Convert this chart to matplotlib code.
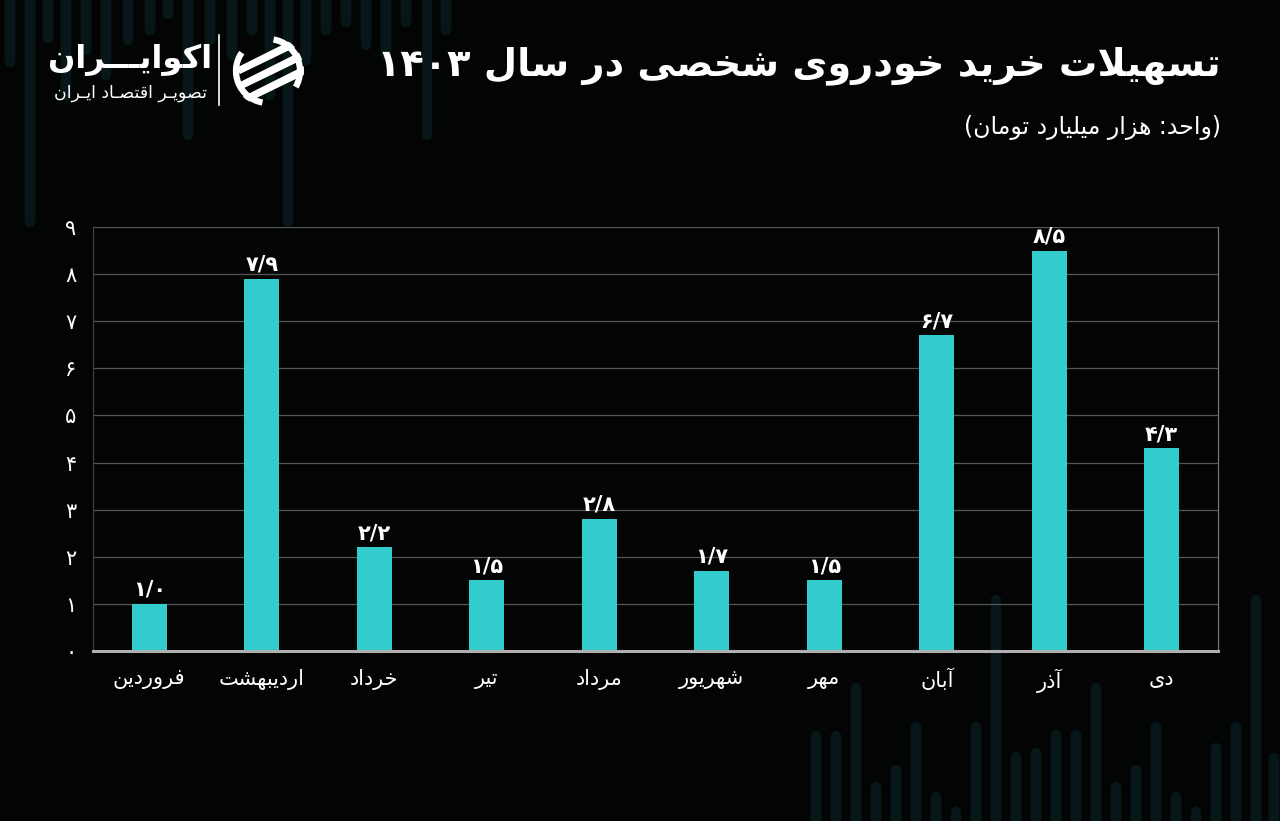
import matplotlib
matplotlib.use("Agg")
import matplotlib.pyplot as plt
from matplotlib.patches import Circle, Polygon, Arc
import numpy as np

# ---------------- data ----------------
months = ["فروردین", "اردیبهشت", "خرداد", "تیر", "مرداد",
          "شهریور", "مهر", "آبان", "آذر", "دی"]
values = [1.0, 7.9, 2.2, 1.5, 2.8, 1.7, 1.5, 6.7, 8.5, 4.3]
value_labels = ["۱/۰", "۷/۹", "۲/۲", "۱/۵", "۲/۸", "۱/۷", "۱/۵", "۶/۷", "۸/۵", "۴/۳"]
y_ticks = [0, 1, 2, 3, 4, 5, 6, 7, 8, 9]
y_tick_labels = ["۰", "۱", "۲", "۳", "۴", "۵", "۶", "۷", "۸", "۹"]
title = "تسهیلات خرید خودروی شخصی در سال ۱۴۰۳"
subtitle = "(واحد: هزار میلیارد تومان)"
brand = "اکوایـــران"
brand_sub = "تصویـر اقتصـاد ایـران"

# ---------------- simple Persian shaping ----------------
F = {  # isolated, final, initial, medial
    'ا': ('\uFE8D', '\uFE8E', None, None),
    'آ': ('\uFE81', '\uFE82', None, None),
    'ب': ('\uFE8F', '\uFE90', '\uFE91', '\uFE92'),
    'پ': ('\uFB56', '\uFB57', '\uFB58', '\uFB59'),
    'ت': ('\uFE95', '\uFE96', '\uFE97', '\uFE98'),
    'ث': ('\uFE99', '\uFE9A', '\uFE9B', '\uFE9C'),
    'ج': ('\uFE9D', '\uFE9E', '\uFE9F', '\uFEA0'),
    'ح': ('\uFEA1', '\uFEA2', '\uFEA3', '\uFEA4'),
    'خ': ('\uFEA5', '\uFEA6', '\uFEA7', '\uFEA8'),
    'د': ('\uFEA9', '\uFEAA', None, None),
    'ذ': ('\uFEAB', '\uFEAC', None, None),
    'ر': ('\uFEAD', '\uFEAE', None, None),
    'ز': ('\uFEAF', '\uFEB0', None, None),
    'س': ('\uFEB1', '\uFEB2', '\uFEB3', '\uFEB4'),
    'ش': ('\uFEB5', '\uFEB6', '\uFEB7', '\uFEB8'),
    'ص': ('\uFEB9', '\uFEBA', '\uFEBB', '\uFEBC'),
    'ق': ('\uFED5', '\uFED6', '\uFED7', '\uFED8'),
    'ف': ('\uFED1', '\uFED2', '\uFED3', '\uFED4'),
    'ک': ('\uFB8E', '\uFB8F', '\uFB90', '\uFB91'),
    'ل': ('\uFEDD', '\uFEDE', '\uFEDF', '\uFEE0'),
    'م': ('\uFEE1', '\uFEE2', '\uFEE3', '\uFEE4'),
    'ن': ('\uFEE5', '\uFEE6', '\uFEE7', '\uFEE8'),
    'و': ('\uFEED', '\uFEEE', None, None),
    'ه': ('\uFEE9', '\uFEEA', '\uFEEB', '\uFEEC'),
    'ی': ('\uFBFC', '\uFBFD', '\uFBFE', '\uFBFF'),
    'ـ': ('ـ', 'ـ', 'ـ', 'ـ'),
}
LAM_ALEF = {'ا': ('\uFEFB', '\uFEFC'), 'آ': ('\uFEF5', '\uFEF6')}
DIGITS = set("۰۱۲۳۴۵۶۷۸۹0123456789٫/")


def shape(text):
    out = []
    i = 0
    n = len(text)
    while i < n:
        c = text[i]
        if c not in F:
            out.append(c)
            i += 1
            continue
        prev = text[i - 1] if i > 0 else None
        jp = prev in F and F[prev][2] is not None
        if c == 'ل' and i + 1 < n and text[i + 1] in LAM_ALEF:
            out.append(LAM_ALEF[text[i + 1]][1 if jp else 0])
            i += 2
            continue
        nxt = text[i + 1] if i + 1 < n else None
        jn = nxt in F and F[c][2] is not None
        iso, fin, ini, med = F[c]
        if jp and jn:
            out.append(med)
        elif jp:
            out.append(fin)
        elif jn:
            out.append(ini)
        else:
            out.append(iso)
        i += 1
    return "".join(out)


def fa(text):
    s = shape(text)
    tokens = []
    for ch in s:
        isd = ch in DIGITS
        if tokens and tokens[-1][0] == isd:
            tokens[-1][1].append(ch)
        else:
            tokens.append([isd, [ch]])
    mirror = {'(': ')', ')': '('}
    res = []
    for isd, chars in reversed(tokens):
        if isd:
            res.append("".join(chars))
        else:
            res.append("".join(mirror.get(c, c) for c in reversed(chars)))
    return "".join(res)


# ---------------- figure ----------------
BG = "#030404"
BAR = "#33cccc"
DECO = "#061619"
W, H = 1280, 821
fig = plt.figure(figsize=(W / 100, H / 100), dpi=100, facecolor=BG)
plt.rcParams['font.family'] = ['DejaVu Sans']

# decorative background bars (pixel space)
bg = fig.add_axes([0, 0, 1, 1])
bg.set_xlim(0, W)
bg.set_ylim(H, 0)
bg.axis("off")
bg.set_facecolor(BG)
top_deco_x = [10, 30, 48, 66, 86, 106, 128, 150, 168, 188, 210, 232, 252, 270, 288, 306, 326, 346, 366, 386, 406, 427, 446]
top_deco_end = [62, 222, 38, 95, 50, 75, 40, 30, 14, 135, 40, 55, 30, 95, 222, 60, 30, 22, 45, 55, 22, 135, 30]
for x, e in zip(top_deco_x, top_deco_end):
    bg.plot([x, x], [-10, e], color=DECO, lw=7.5, solid_capstyle="round", zorder=0)
bot_deco_x = [816, 836, 856, 876, 896, 916, 936, 956, 976, 996, 1016, 1036, 1056, 1076, 1096, 1116, 1136, 1156, 1176, 1196, 1216, 1236, 1256, 1274]
bot_deco_top = [736, 736, 688, 787, 770, 727, 797, 812, 727, 600, 757, 753, 735, 735, 688, 787, 770, 727, 797, 812, 748, 727, 600, 758]
for x, t in zip(bot_deco_x, bot_deco_top):
    bg.plot([x, x], [t, H + 10], color=DECO, lw=7.5, solid_capstyle="round", zorder=0)

# logo
bg.text(130, 60, fa(brand), color="white", fontsize=23, fontweight="bold",
        ha="center", va="center", family="DejaVu Sans")
bg.text(130, 93, fa(brand_sub), color="white", fontsize=12.5,
        ha="center", va="center", family="DejaVu Sans")
bg.plot([219, 219], [35, 105], color="white", lw=1.2)
bg.add_patch(Arc((268, 71), 64, 64, theta1=100, theta2=215, ec="white", lw=4.5))
bg.add_patch(Arc((268, 71), 64, 64, theta1=280, theta2=30, ec="white", lw=4.5))
clip = Circle((268, 71), 36, transform=bg.transData, fc="none", ec="none")
bg.add_patch(clip)
for dy in [-16, 0, 16]:
    poly = Polygon([[236, 72 + dy + 12], [304, 72 + dy - 22], [306, 72 + dy - 14], [240, 72 + dy + 18]],
                   closed=True, fc="white", ec="none")
    bg.add_patch(poly)
    poly.set_clip_path(clip)

# title
bg.text(1221, 66, fa(title), color="white", fontsize=27.5, fontweight="bold",
        ha="right", va="center", family="DejaVu Sans")
bg.text(1221, 128, fa(subtitle), color="white", fontsize=17,
        ha="right", va="center", family="DejaVu Sans")

# ---------------- main axes ----------------
ax = fig.add_axes([93 / W, (H - 651) / H, (1218 - 93) / W, (651 - 227) / H])
ax.set_facecolor("none")
x = np.arange(len(months))
ax.bar(x, values, width=0.31, color=BAR, zorder=3)
ax.set_xlim(-0.5, len(months) - 0.5)
ax.set_ylim(0, 9)
ax.set_yticks(y_ticks)
ax.set_yticklabels(y_tick_labels, fontsize=15, color="white")
ax.set_xticks(x)
ax.set_xticklabels([fa(m) for m in months], fontsize=15, color="white")
ax.tick_params(axis="both", length=0)
ax.tick_params(axis="y", pad=12)
ax.tick_params(axis="x", pad=13)
ax.grid(axis="y", color="#555555", lw=0.9, zorder=0)
ax.spines["top"].set_visible(False)
ax.spines["bottom"].set_color("#b0b0b0")
ax.spines["bottom"].set_linewidth(2.2)
ax.spines["bottom"].set_zorder(4)
ax.spines["right"].set_color("#777777")
ax.spines["right"].set_linewidth(0.9)
ax.spines["left"].set_color("#444444")
ax.spines["left"].set_linewidth(0.8)

for xi, v, lab in zip(x, values, value_labels):
    ax.annotate(lab, (xi, v), xytext=(0, 3), textcoords="offset points",
                ha="center", va="bottom", color="white", fontsize=15, fontweight="bold")

fig.savefig("out.png", dpi=100, facecolor=BG)
